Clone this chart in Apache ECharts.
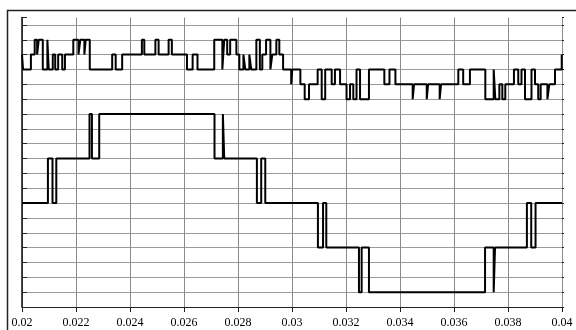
<!DOCTYPE html>
<html>
<head>
<meta charset="utf-8">
<script src="https://cdn.jsdelivr.net/npm/echarts@6/dist/echarts.min.js"></script>
<style>
  html, body { margin: 0; padding: 0; background: #fff; }
  #chart { width: 576px; height: 330px; }
</style>
</head>
<body>
<div id="chart"></div>
<script>
// x axis ticks (seconds)
const xMin = 0.02;
const xMax = 0.04;
const xStep = 0.002;

// upper trace: switching times and the level that starts at each time
const upperTimes = [
  0.02000, 0.02004, 0.02033, 0.02047, 0.02056, 0.02062, 0.02077, 0.02094, 0.02099, 0.02114,
  0.02123, 0.02134, 0.02149, 0.02159, 0.02190, 0.02209, 0.02216, 0.02231, 0.02236, 0.02251,
  0.02334, 0.02347, 0.02371, 0.02444, 0.02453, 0.02494, 0.02506, 0.02543, 0.02555, 0.02611,
  0.02632, 0.02650, 0.02712, 0.02742, 0.02749, 0.02760, 0.02771, 0.02794, 0.02805, 0.02820,
  0.02827, 0.02842, 0.02849, 0.02868, 0.02881, 0.02890, 0.02904, 0.02920, 0.02927, 0.02942,
  0.02953, 0.02967, 0.02997, 0.03001, 0.03031, 0.03047, 0.03063, 0.03095, 0.03110, 0.03123,
  0.03147, 0.03159, 0.03178, 0.03202, 0.03215, 0.03227, 0.03239, 0.03252, 0.03285, 0.03342,
  0.03361, 0.03383, 0.03447, 0.03452, 0.03499, 0.03504, 0.03547, 0.03552, 0.03616, 0.03634,
  0.03659, 0.03716, 0.03747, 0.03753, 0.03768, 0.03779, 0.03790, 0.03822, 0.03838, 0.03850,
  0.03863, 0.03887, 0.03900, 0.03912, 0.03921, 0.03946, 0.03953, 0.03974, 0.03999, 0.04000
];
const upperLevels = [
  17, 16, 17, 18, 17, 18, 16, 18, 16, 17,
  16, 17, 16, 17, 18, 17, 18, 17, 18, 16,
  17, 16, 17, 18, 17, 18, 17, 18, 17, 16,
  17, 16, 18, 16, 18, 17, 18, 17, 16, 17,
  16, 17, 16, 18, 16, 17, 18, 16, 17, 18,
  17, 16, 15, 16, 15, 14, 15, 16, 14, 16,
  15, 16, 15, 14, 15, 14, 16, 14, 16, 15,
  16, 15, 14, 15, 14, 15, 14, 15, 16, 15,
  16, 14, 16, 14, 15, 14, 15, 16, 15, 16,
  14, 16, 15, 14, 15, 14, 15, 16, 17, 17
];

// lower trace: staircase levels
const lowerTimes = [
  0.02000, 0.02096, 0.02113, 0.02127, 0.02250, 0.02259, 0.02286, 0.02713, 0.02744, 0.02749,
  0.02870, 0.02886, 0.02901, 0.03096, 0.03115, 0.03127, 0.03248, 0.03258, 0.03285, 0.03715,
  0.03747, 0.03752, 0.03870, 0.03886, 0.03902, 0.04000
];
const lowerLevels = [
  7, 10, 7, 10, 13, 10, 13, 10, 13, 10,
  7, 10, 7, 4, 7, 4, 1, 4, 1, 4,
  1, 4, 7, 4, 7, 7
];

const yMin = 0;
const yMax = 19.5;

const chart = echarts.init(document.getElementById("chart"));

const toPairs = (times, levels) => times.map((t, i) => [t, levels[i]]);

// one colour per horizontal grid line, the last (at yMax) left out
const hLineColors = [];
for (let v = yMin; v <= Math.floor(yMax); v++) hLineColors.push("#9a9a9a");
hLineColors.push("rgba(0,0,0,0)");

const labelFont = {
  fontFamily: "'Liberation Serif', 'DejaVu Serif', serif",
  fontSize: 12,
  color: "#000",
};

chart.setOption({
  animation: false,
  backgroundColor: "#fff",
  graphic: [
    {
      type: "rect",
      shape: { x: 7.5, y: 10.5, width: 700, height: 500 },
      style: { fill: null, stroke: "#222", lineWidth: 1.5 },
      silent: true,
    },
  ],
  grid: { left: 22, right: 14, top: 17.5, bottom: 23, containLabel: false },
  xAxis: [
    {
      type: "value",
      min: xMin,
      max: xMax,
      interval: xStep,
      axisLine: { show: true, onZero: false, lineStyle: { color: "#222", width: 1 } },
      axisTick: { show: true, inside: false, length: 5, lineStyle: { color: "#222" } },
      axisLabel: { ...labelFont, margin: 10 },
      splitLine: { show: true, lineStyle: { color: "#8a8a8a", width: 1 } },
    },
    {
      type: "value",
      position: "top",
      min: xMin,
      max: xMax,
      interval: xStep,
      axisLine: { show: false },
      axisTick: { show: true, inside: true, length: 3, lineStyle: { color: "#222" } },
      axisLabel: { show: false },
      splitLine: { show: false },
    },
  ],
  yAxis: [
    {
      type: "value",
      min: yMin,
      max: yMax,
      interval: 1,
      axisLine: { show: true, onZero: false, lineStyle: { color: "#111", width: 1.5 } },
      axisTick: { show: true, inside: true, length: 5, lineStyle: { color: "#222" } },
      axisLabel: { show: false },
      splitLine: { show: true, lineStyle: { color: hLineColors, width: 1 } },
    },
    {
      type: "value",
      position: "right",
      min: yMin,
      max: yMax,
      interval: 1,
      axisLine: { show: false },
      axisTick: { show: true, inside: false, length: 2, lineStyle: { color: "#222" } },
      axisLabel: { show: false },
      splitLine: { show: false },
    },
  ],
  series: [
    {
      name: "upper",
      type: "line",
      step: "end",
      showSymbol: false,
      data: toPairs(upperTimes, upperLevels),
      lineStyle: { color: "#000", width: 2 },
    },
    {
      name: "lower",
      type: "line",
      step: "end",
      showSymbol: false,
      data: toPairs(lowerTimes, lowerLevels),
      lineStyle: { color: "#000", width: 2 },
    },
  ],
});
</script>
</body>
</html>
